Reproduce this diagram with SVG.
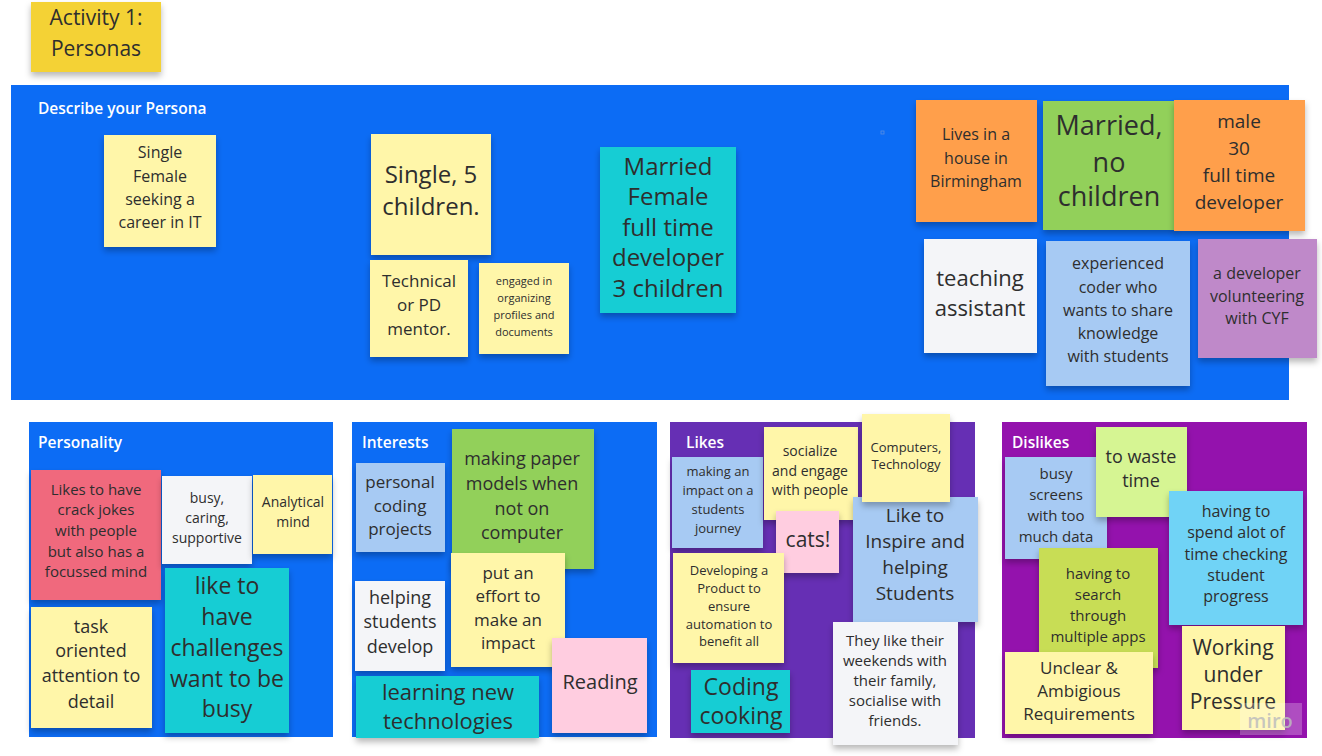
<svg xmlns="http://www.w3.org/2000/svg" width="1322" height="756" viewBox="0 0 1322 756">
<defs>
<filter id="sh" x="-20%" y="-20%" width="140%" height="150%">
<feDropShadow dx="0" dy="4" stdDeviation="3" flood-color="#000" flood-opacity="0.28"/>
</filter>
<style>
.fb{fill:#0c6cf5}
.fl{fill:#662fb4}
.fd{fill:#9412ad}
.lbl{font-family:"Open Sans","Noto Sans",sans-serif;font-size:15.5px;font-weight:600;fill:#ffffff}
.st{filter:url(#sh)}
.y{fill:#fff6a9}
.yt{fill:#f4d236}
.tl{fill:#14cdd4}
.or{fill:#ff9f4c}
.gr{fill:#92d05a}
.wh{fill:#f4f5f8}
.lb{fill:#a7caf3}
.pu{fill:#bf89c9}
.rd{fill:#f0697d}
.pk{fill:#ffcde0}
.lg{fill:#d6f593}
.cy{fill:#6fd3f6}
.ol{fill:#c8dd55}
text.t{font-family:"Open Sans","Noto Sans",sans-serif;fill:#2e2e2e;text-anchor:middle}
</style>
</defs>

<g id="frames">
<rect id="frame-describe" class="fb" x="11" y="85" width="1278" height="315"/>
<rect id="frame-personality" class="fb" x="29" y="422" width="304" height="315"/>
<rect id="frame-interests" class="fb" x="352" y="422" width="305" height="315"/>
<rect id="frame-likes" class="fl" x="670" y="422" width="305" height="316"/>
<rect id="frame-dislikes" class="fd" x="1002" y="422" width="305" height="316"/>
<text class="lbl" x="38" y="114">Describe your Persona</text>
<text class="lbl" x="38" y="448">Personality</text>
<text class="lbl" x="362" y="448">Interests</text>
<text class="lbl" x="686" y="448">Likes</text>
<text class="lbl" x="1012" y="448">Dislikes</text>
<rect x="881" y="131" width="3" height="3" fill="none" stroke="#5a8fe0" stroke-width="0.8"/>
</g>

<g id="title">
<rect class="yt st" x="31" y="2" width="130" height="70"/>
<text class="t" font-size="21"><tspan x="96" y="25">Activity 1:</tspan><tspan x="96" y="56">Personas</tspan></text>
</g>

<g id="connectors"></g>

<g id="n-single-female">
<rect class="y st" x="104" y="135" width="112" height="112"/>
<text class="t" font-size="16"><tspan x="160" y="158">Single</tspan><tspan x="160" y="182">Female</tspan><tspan x="160" y="205">seeking a</tspan><tspan x="160" y="228">career in IT</tspan></text>
</g>
<g id="n-single-5">
<rect class="y st" x="371" y="134" width="120" height="121"/>
<text class="t" font-size="24"><tspan x="431" y="183">Single, 5</tspan><tspan x="431" y="215">children.</tspan></text>
</g>
<g id="n-technical">
<rect class="y st" x="370" y="260" width="98" height="97"/>
<text class="t" font-size="17"><tspan x="419" y="287">Technical</tspan><tspan x="419" y="311">or PD</tspan><tspan x="419" y="335">mentor.</tspan></text>
</g>
<g id="n-engaged">
<rect class="y st" x="479" y="263" width="90" height="91"/>
<text class="t" font-size="11"><tspan x="524" y="285">engaged in</tspan><tspan x="524" y="302">organizing</tspan><tspan x="524" y="319">profiles and</tspan><tspan x="524" y="336">documents</tspan></text>
</g>
<g id="n-married-female">
<rect class="tl st" x="600" y="147" width="136" height="166"/>
<text class="t" font-size="24"><tspan x="668" y="175">Married</tspan><tspan x="668" y="205">Female</tspan><tspan x="668" y="236">full time</tspan><tspan x="668" y="266">developer</tspan><tspan x="668" y="297">3 children</tspan></text>
</g>
<g id="n-lives">
<rect class="or st" x="916" y="100" width="121" height="122"/>
<text class="t" font-size="16"><tspan x="976" y="140">Lives in a</tspan><tspan x="976" y="164">house in</tspan><tspan x="976" y="187">Birmingham</tspan></text>
</g>
<g id="n-married-no">
<rect class="gr st" x="1043" y="101" width="133" height="129"/>
<text class="t" font-size="27"><tspan x="1109" y="135">Married,</tspan><tspan x="1109" y="172">no</tspan><tspan x="1109" y="206">children</tspan></text>
</g>
<g id="n-male">
<rect class="or st" x="1174" y="100" width="131" height="131"/>
<text class="t" font-size="19"><tspan x="1239" y="128">male</tspan><tspan x="1239" y="155">30</tspan><tspan x="1239" y="182">full time</tspan><tspan x="1239" y="209">developer</tspan></text>
</g>
<g id="n-teaching">
<rect class="wh st" x="924" y="239" width="113" height="114"/>
<text class="t" font-size="22"><tspan x="980" y="286">teaching</tspan><tspan x="980" y="316">assistant</tspan></text>
</g>
<g id="n-experienced">
<rect class="lb st" x="1046" y="241" width="144" height="145"/>
<text class="t" font-size="16"><tspan x="1118" y="269">experienced</tspan><tspan x="1118" y="293">coder who</tspan><tspan x="1118" y="316">wants to share</tspan><tspan x="1118" y="339">knowledge</tspan><tspan x="1118" y="362">with students</tspan></text>
</g>
<g id="n-volunteer">
<rect class="pu st" x="1198" y="239" width="119" height="119"/>
<text class="t" font-size="16"><tspan x="1257" y="279">a developer</tspan><tspan x="1257" y="302">volunteering</tspan><tspan x="1257" y="324">with CYF</tspan></text>
</g>

<g id="n-jokes">
<rect class="rd st" x="31" y="470" width="130" height="130"/>
<text class="t" font-size="15"><tspan x="96" y="495">Likes to have</tspan><tspan x="96" y="515">crack jokes</tspan><tspan x="96" y="536">with people</tspan><tspan x="96" y="557">but also has a</tspan><tspan x="96" y="577">focussed mind</tspan></text>
</g>
<g id="n-busy-caring">
<rect class="wh st" x="162" y="476" width="90" height="88"/>
<text class="t" font-size="14"><tspan x="207" y="503">busy,</tspan><tspan x="207" y="523">caring,</tspan><tspan x="207" y="543">supportive</tspan></text>
</g>
<g id="n-analytical">
<rect class="y st" x="253" y="475" width="79" height="79"/>
<text class="t" font-size="14"><tspan x="293" y="507">Analytical</tspan><tspan x="293" y="527">mind</tspan></text>
</g>
<g id="n-task">
<rect class="y st" x="31" y="607" width="121" height="121"/>
<text class="t" font-size="18"><tspan x="91" y="633">task</tspan><tspan x="91" y="657">oriented</tspan><tspan x="91" y="682">attention to</tspan><tspan x="91" y="708">detail</tspan></text>
</g>
<g id="n-challenges">
<rect class="tl st" x="165" y="568" width="124" height="165"/>
<text class="t" font-size="23"><tspan x="227" y="594">like to</tspan><tspan x="227" y="625">have</tspan><tspan x="227" y="656">challenges</tspan><tspan x="227" y="687">want to be</tspan><tspan x="227" y="717">busy</tspan></text>
</g>

<g id="n-personal-coding">
<rect class="lb st" x="356" y="463" width="89" height="89"/>
<text class="t" font-size="17"><tspan x="400" y="488">personal</tspan><tspan x="400" y="512">coding</tspan><tspan x="400" y="535">projects</tspan></text>
</g>
<g id="n-paper-models">
<rect class="gr st" x="452" y="429" width="142" height="140"/>
<text class="t" font-size="18"><tspan x="522" y="465">making paper</tspan><tspan x="522" y="490">models when</tspan><tspan x="522" y="515">not on</tspan><tspan x="522" y="539">computer</tspan></text>
</g>
<g id="n-effort">
<rect class="y st" x="451" y="553" width="114" height="114"/>
<text class="t" font-size="17"><tspan x="508" y="579">put an</tspan><tspan x="508" y="602">effort to</tspan><tspan x="508" y="626">make an</tspan><tspan x="508" y="649">impact</tspan></text>
</g>
<g id="n-helping-students">
<rect class="wh st" x="355" y="581" width="90" height="90"/>
<text class="t" font-size="18"><tspan x="400" y="604">helping</tspan><tspan x="400" y="628">students</tspan><tspan x="400" y="653">develop</tspan></text>
</g>
<g id="n-learning">
<rect class="tl st" x="356" y="676" width="183" height="62"/>
<text class="t" font-size="22"><tspan x="448" y="700">learning new</tspan><tspan x="448" y="729">technologies</tspan></text>
</g>
<g id="n-reading">
<rect class="pk st" x="552" y="638" width="95" height="95"/>
<text class="t" font-size="20"><tspan x="600" y="689">Reading</tspan></text>
</g>

<g id="n-impact-journey">
<rect class="lb st" x="672" y="457" width="91" height="91"/>
<text class="t" font-size="13"><tspan x="718" y="476">making an</tspan><tspan x="718" y="495">impact on a</tspan><tspan x="718" y="514">students</tspan><tspan x="718" y="533">journey</tspan></text>
</g>
<g id="n-socialize">
<rect class="y st" x="764" y="427" width="94" height="93"/>
<text class="t" font-size="14"><tspan x="810" y="456">socialize</tspan><tspan x="810" y="476">and engage</tspan><tspan x="810" y="495">with people</tspan></text>
</g>
<g id="n-inspire">
<rect class="lb st" x="853" y="497" width="125" height="125"/>
<text class="t" font-size="19"><tspan x="915" y="522">Like to</tspan><tspan x="915" y="548">Inspire and</tspan><tspan x="915" y="574">helping</tspan><tspan x="915" y="600">Students</tspan></text>
</g>
<g id="n-computers">
<rect class="y st" x="862" y="414" width="88" height="88"/>
<text class="t" font-size="13"><tspan x="906" y="452">Computers,</tspan><tspan x="906" y="469">Technology</tspan></text>
</g>
<g id="n-cats">
<rect class="pk st" x="776" y="511" width="63" height="62"/>
<text class="t" font-size="21"><tspan x="808" y="547">cats!</tspan></text>
</g>
<g id="n-developing">
<rect class="y st" x="673" y="553" width="111" height="110"/>
<text class="t" font-size="13"><tspan x="729" y="575">Developing a</tspan><tspan x="729" y="593">Product to</tspan><tspan x="729" y="611">ensure</tspan><tspan x="729" y="629">automation to</tspan><tspan x="729" y="646">benefit all</tspan></text>
</g>
<g id="n-weekends">
<rect class="wh st" x="833" y="622" width="125" height="123"/>
<text class="t" font-size="15"><tspan x="895" y="646">They like their</tspan><tspan x="895" y="666">weekends with</tspan><tspan x="895" y="686">their family,</tspan><tspan x="895" y="706">socialise with</tspan><tspan x="895" y="726">friends.</tspan></text>
</g>
<g id="n-coding-cooking">
<rect class="tl st" x="691" y="670" width="99" height="63"/>
<text class="t" font-size="23"><tspan x="741" y="695">Coding</tspan><tspan x="741" y="724">cooking</tspan></text>
</g>

<g id="n-busy-screens">
<rect class="lb st" x="1005" y="457" width="102" height="102"/>
<text class="t" font-size="15"><tspan x="1056" y="479">busy</tspan><tspan x="1056" y="500">screens</tspan><tspan x="1056" y="521">with too</tspan><tspan x="1056" y="542">much data</tspan></text>
</g>
<g id="n-waste-time">
<rect class="lg st" x="1096" y="427" width="91" height="90"/>
<text class="t" font-size="18"><tspan x="1141" y="463">to waste</tspan><tspan x="1141" y="487">time</tspan></text>
</g>
<g id="n-checking">
<rect class="cy st" x="1169" y="491" width="134" height="134"/>
<text class="t" font-size="16"><tspan x="1236" y="517">having to</tspan><tspan x="1236" y="538">spend alot of</tspan><tspan x="1236" y="560">time checking</tspan><tspan x="1236" y="581">student</tspan><tspan x="1236" y="602">progress</tspan></text>
</g>
<g id="n-search">
<rect class="ol st" x="1039" y="548" width="119" height="120"/>
<text class="t" font-size="15"><tspan x="1098" y="579">having to</tspan><tspan x="1098" y="600">search</tspan><tspan x="1098" y="621">through</tspan><tspan x="1098" y="642">multiple apps</tspan></text>
</g>
<g id="n-unclear">
<rect class="y st" x="1005" y="652" width="148" height="82"/>
<text class="t" font-size="17"><tspan x="1079" y="674">Unclear &amp;</tspan><tspan x="1079" y="697">Ambigious</tspan><tspan x="1079" y="720">Requirements</tspan></text>
</g>
<g id="n-pressure">
<rect class="y st" x="1182" y="626" width="103" height="104"/>
<text class="t" font-size="21"><tspan x="1233" y="655">Working</tspan><tspan x="1233" y="682">under</tspan><tspan x="1233" y="709">Pressure</tspan></text>
</g>

<g id="watermark">
<rect x="1240" y="703" width="62" height="32" fill="#ffffff" fill-opacity="0.25"/>
<text x="1270" y="728" font-family="'Open Sans','Noto Sans',sans-serif" font-size="20" font-weight="600" fill="#bdbdbd" fill-opacity="0.85" text-anchor="middle">miro</text>
</g>
</svg>
